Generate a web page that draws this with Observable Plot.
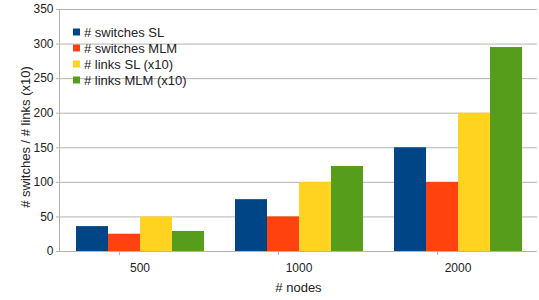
<!DOCTYPE html>
<html>
<head>
<meta charset="utf-8">
<script src="https://cdn.jsdelivr.net/npm/d3@7"></script>
<script src="https://cdn.jsdelivr.net/npm/@observablehq/plot@0.6"></script>
<style>
  html, body { margin: 0; padding: 0; background: #fff; }
  svg { font-family: "Liberation Sans", Arial, sans-serif; }
</style>
</head>
<body>
<div id="chart"></div>
<script>
const groups = ["500", "1000", "2000"];
const seriesNames = ["# switches SL", "# switches MLM", "# links SL (x10)", "# links MLM (x10)"];
const switchesSL = [36, 75, 150];
const switchesMLM = [25, 50, 100];
const linksSL = [50, 100, 200];
const linksMLM = [29, 123, 295];
const yTicks = [0, 50, 100, 150, 200, 250, 300, 350];
const colors = ["#004586", "#ff420e", "#ffd320", "#579d1c"];

const seriesValues = [switchesSL, switchesMLM, linksSL, linksMLM];
const data = [];
groups.forEach((g, i) => {
  seriesNames.forEach((s, j) => {
    data.push({ group: g, series: s, value: seriesValues[j][i] });
  });
});

const W = 539, H = 300, mL = 59, mR = 1, mT = 9, mB = 49;

const chart = Plot.plot({
  width: W,
  height: H,
  marginLeft: mL,
  marginRight: mR,
  marginTop: mT,
  marginBottom: mB,
  style: { fontFamily: "Liberation Sans, Arial, sans-serif", color: "#222", background: "#fff" },
  fx: { domain: groups, padding: 0, label: null },
  x: { domain: seriesNames, paddingInner: 0, paddingOuter: 0.46, axis: null },
  y: { domain: [0, 350], label: null },
  color: { domain: seriesNames, range: colors },
  marks: [
    Plot.gridY(yTicks, { stroke: "#b3b3b3", strokeOpacity: 1 }),
    Plot.barY(data, { fx: "group", x: "series", y: "value", fill: "series" }),
    Plot.ruleY([0], { stroke: "#b3b3b3", strokeOpacity: 1 }),
    Plot.axisY({ ticks: yTicks, tickSize: 4, tickPadding: 3, fontSize: 12, label: null, stroke: "#b3b3b3" }),
    Plot.axisFx({ anchor: "bottom", tickSize: 0, tickPadding: 12, fontSize: 12, label: null })
  ]
});

document.getElementById("chart").appendChild(chart);

const svg = d3.select(chart);
const fx = chart.scale("fx");
const color = chart.scale("color");
const yB = H - mB;

// y axis line
svg.append("line").attr("x1", mL + 0.5).attr("x2", mL + 0.5).attr("y1", mT).attr("y2", yB)
  .attr("stroke", "#b3b3b3");
// separator ticks between groups on the x axis
const bw = fx.bandwidth;
groups.forEach((g) => {
  const x0 = mL + fx.apply(g);
  [x0, x0 + bw].forEach(xx => {
    svg.append("line").attr("x1", Math.round(xx) + 0.5).attr("x2", Math.round(xx) + 0.5)
      .attr("y1", yB).attr("y2", yB + 4).attr("stroke", "#b3b3b3");
  });
});

// axis titles
svg.append("text").attr("x", (mL + W - mR) / 2).attr("y", 292)
  .attr("text-anchor", "middle").attr("font-size", 13).attr("fill", "#222").text("# nodes");
svg.append("text").attr("transform", `translate(30,137) rotate(-90)`)
  .attr("text-anchor", "middle").attr("font-size", 13).attr("fill", "#222")
  .text("# switches / # links (x10)");

// legend
const lg = svg.append("g").attr("text-anchor", "start");
seriesNames.forEach((s, i) => {
  const cy = 32 + i * 16;
  lg.append("rect").attr("x", 73).attr("y", cy - 3.5).attr("width", 7).attr("height", 7).attr("fill", color.apply(s));
  lg.append("text").attr("x", 84).attr("y", cy).attr("dy", "0.35em").attr("font-size", 13)
    .attr("text-anchor", "start").attr("fill", "#222").text(s);
});
</script>
</body>
</html>
